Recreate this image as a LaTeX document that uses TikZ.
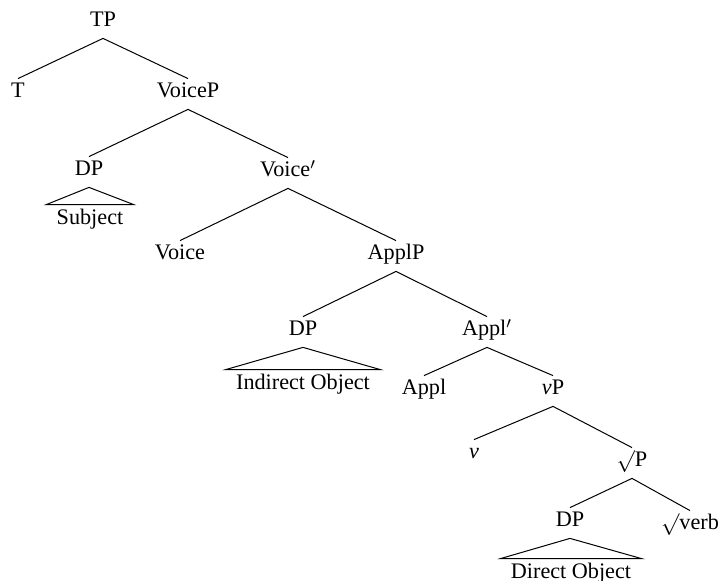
\documentclass[tikz,border=0pt]{standalone}
\usepackage{fontspec}
\setmainfont{Liberation Serif}
\usepackage{tikz}

\begin{document}
\begin{tikzpicture}
[x=0.5pt, y=-0.5pt,
 every node/.style={inner xsep=1pt, inner ysep=2pt, text height=7.5pt, text depth=3.5pt, anchor=base, font=\fontsize{11.1pt}{13pt}\selectfont},
 roof/.style={inner xsep=5pt, inner ysep=2.5pt},
 branch/.style={line width=0.5pt, color=black}]
\useasboundingbox (0, 0) rectangle (722, 581);
\node (TP) at (103, 27) {TP};
\node (T) at (18, 98) {T};
\node (VoiceP) at (188, 98) {VoiceP};
\node (DPs) at (89, 176) {DP};
\node (Subj) [roof] at (90, 225) {Subject};
\node (VoiceBar) at (288, 177) {Voice$'$};
\node (Voice) at (180, 260) {Voice};
\node (ApplP) at (396, 260) {ApplP};
\node (DPio) at (303, 336) {DP};
\node (IO) [roof] at (303, 390) {Indirect Object};
\node (ApplBar) at (487, 336) {Appl$'$};
\node (Appl) at (424, 395) {Appl};
\node (vP) at (553, 395) {\textit{v}P};
\node (v) at (474, 459) {\textit{v}};
\node (RootP) at (632, 467) {$\surd$P};
\node (DPdo) at (570, 527) {DP};
\node (Root) at (690, 530) {$\surd$verb};
\node (DO) [roof] at (571, 579) {Direct Object};
\draw [branch] (TP.south) to (T.north);
\draw [branch] (TP.south) to (VoiceP.north);
\draw [branch] (VoiceP.south) to (DPs.north);
\draw [branch] (VoiceP.south) to (VoiceBar.north);
\draw [branch] (DPs.south) -- (Subj.north west) -- (Subj.north east) -- cycle;
\draw [branch] (VoiceBar.south) to (Voice.north);
\draw [branch] (VoiceBar.south) to (ApplP.north);
\draw [branch] (ApplP.south) to (DPio.north);
\draw [branch] (ApplP.south) to (ApplBar.north);
\draw [branch] (DPio.south) -- (IO.north west) -- (IO.north east) -- cycle;
\draw [branch] (ApplBar.south) to (Appl.north);
\draw [branch] (ApplBar.south) to (vP.north);
\draw [branch] (vP.south) to (v.north);
\draw [branch] (vP.south) to (RootP.north);
\draw [branch] (RootP.south) to (DPdo.north);
\draw [branch] (RootP.south) to (Root.north);
\draw [branch] (DPdo.south) -- (DO.north west) -- (DO.north east) -- cycle;
\end{tikzpicture}
\end{document}
